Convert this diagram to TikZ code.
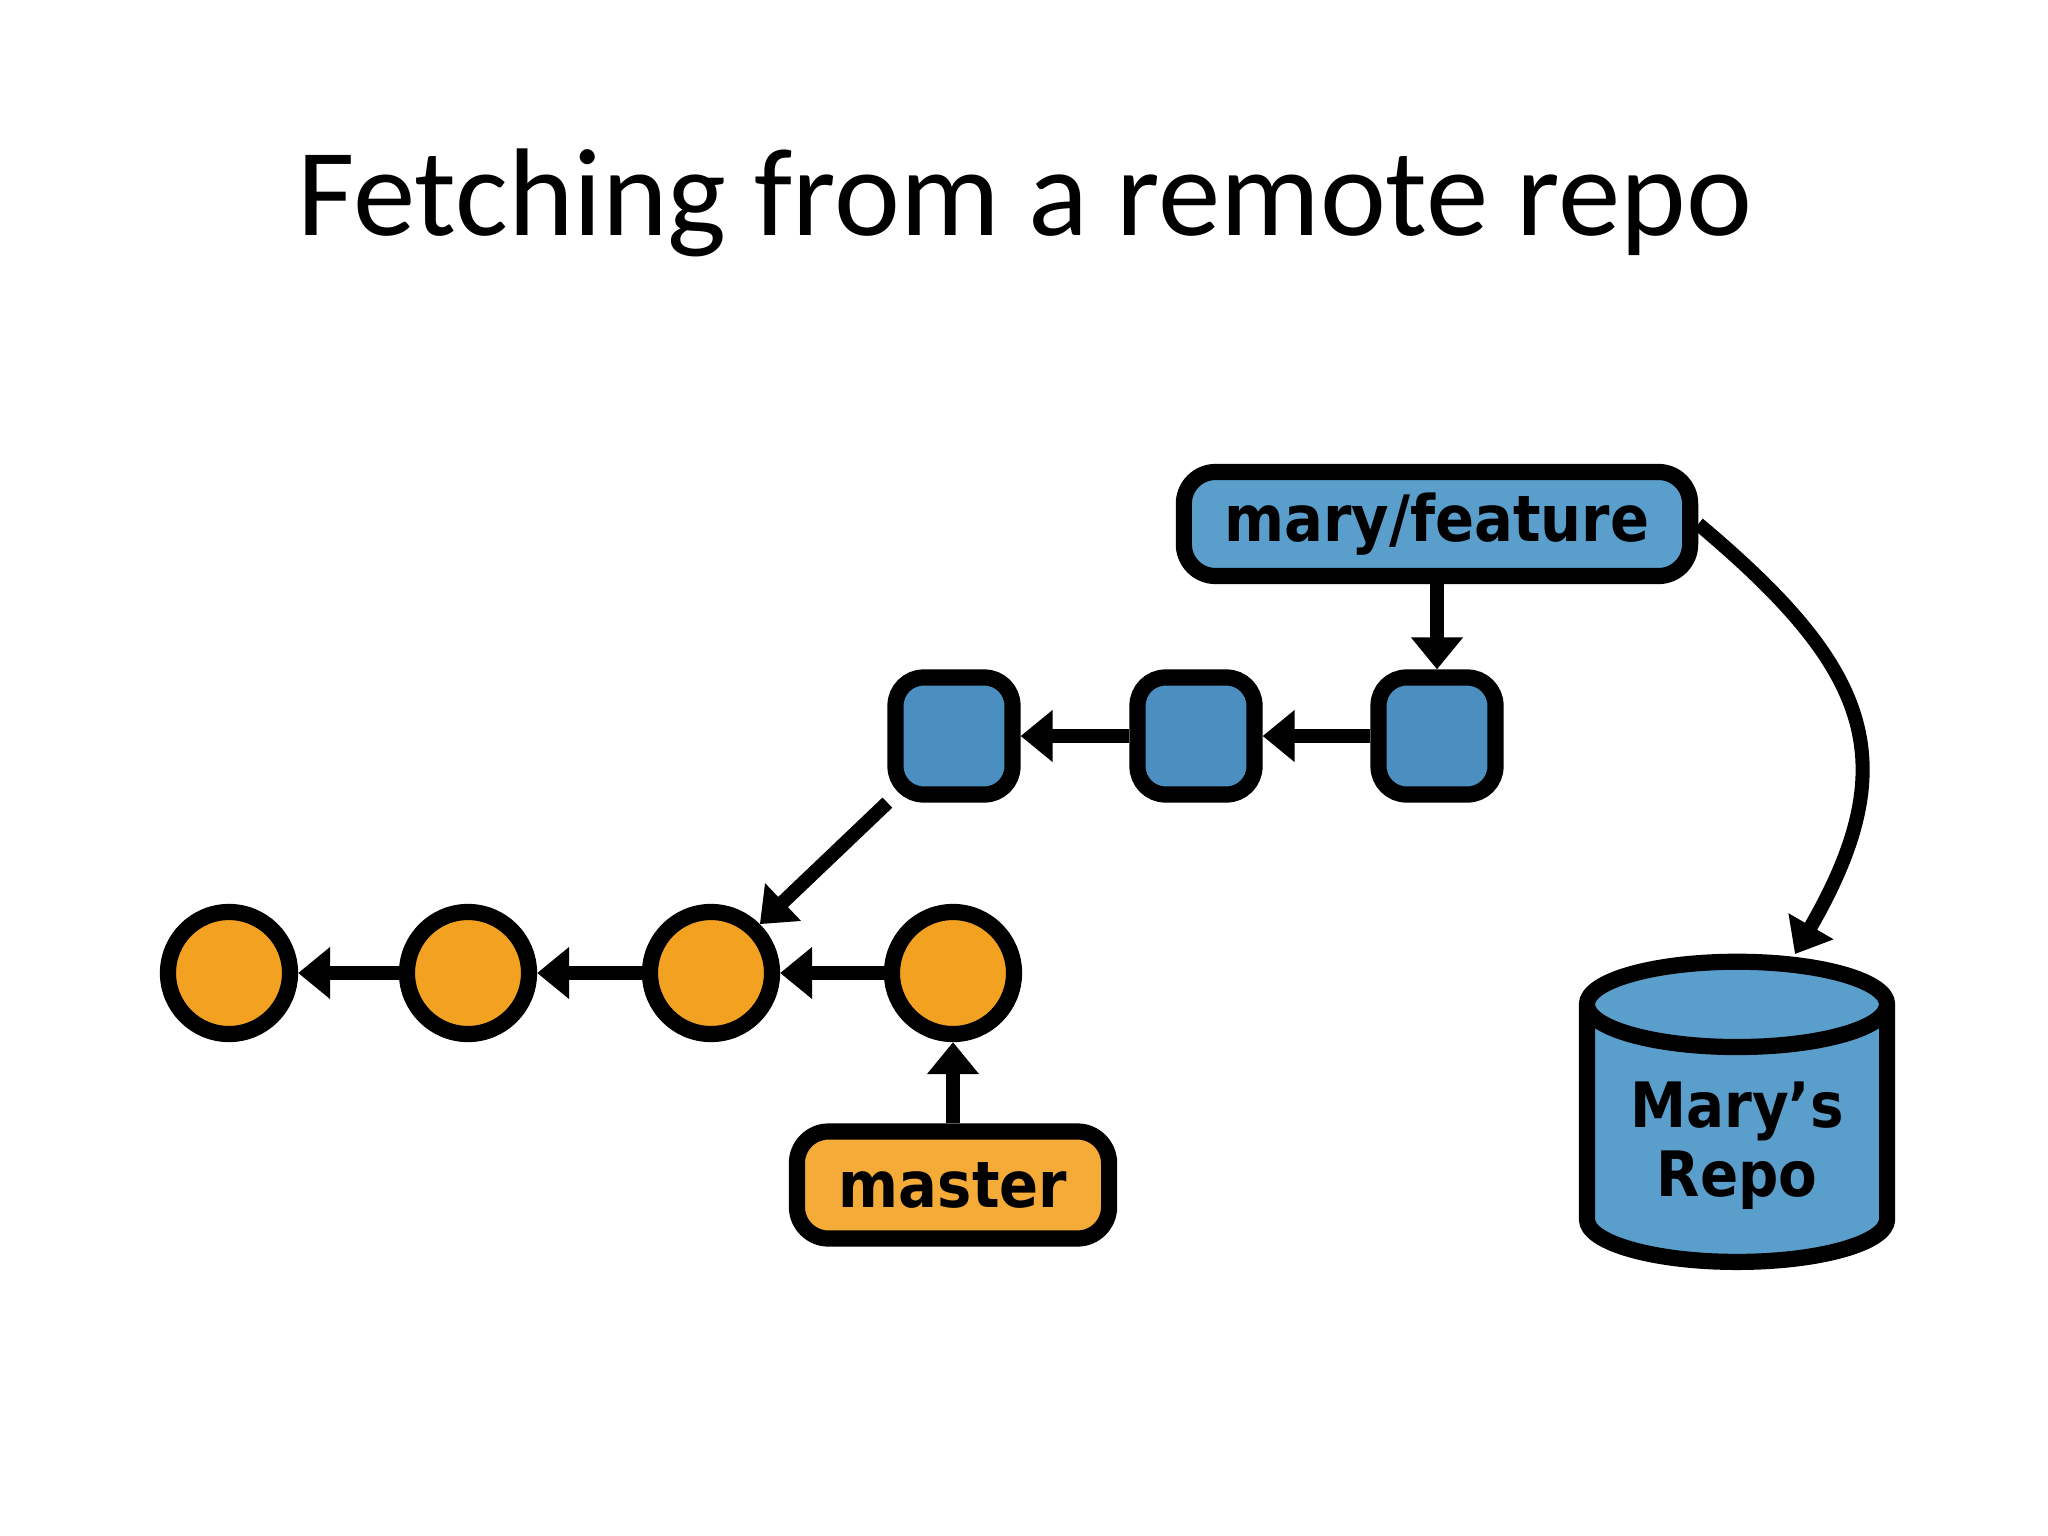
\documentclass[tikz,border=0pt]{standalone}
\usepackage{fontspec}
\usetikzlibrary{arrows.meta, positioning, calc, shapes.geometric}
\setmainfont{Carlito}
\newfontfamily\labelfont{DejaVu Sans Condensed}
\definecolor{inkblue}{HTML}{4A8FBF}
\definecolor{inkbluelight}{HTML}{5A9FCC}
\definecolor{inkorange}{HTML}{F2A121}
\definecolor{inkorangelight}{HTML}{F5AB37}
\newcommand{\featcommit}[2]{%
  \node[draw=black, line width=4.6pt, rounded corners=8pt, fill=inkblue,
        minimum size=1.17cm] (#1) at (#2,736) {};}
\newcommand{\mastercommit}[2]{%
  \node[circle, draw=black, line width=4.6pt, fill=inkorange,
        minimum size=1.22cm] (#1) at (#2,973) {};}
\tikzset{
  refbox/.style={draw=black, line width=4.6pt, rounded corners=9pt,
        font=\labelfont\bfseries\fontsize{18.2}{18.2}\selectfont},
  commitarrow/.style={-{Triangle[width=0.5cm, length=0.32cm]}, line width=4pt}
}

\begin{document}
\begin{tikzpicture}[x=0.01cm, y=-0.01cm]
      \useasboundingbox[fill=white] (0,0) rectangle (2048,1536);
      \node[anchor=base, font=\fontsize{35.5}{42}\selectfont] (title) at (1025,235)
        {Fetching from a remote repo};
      % commits
      \featcommit{f1}{954}
      \featcommit{f2}{1196}
      \featcommit{f3}{1437}
      \mastercommit{m1}{229}
      \mastercommit{m2}{468}
      \mastercommit{m3}{711}
      \mastercommit{m4}{953}
      % refs and repo
      \node[refbox, fill=inkbluelight, minimum width=5.06cm, minimum height=1.04cm]
        (mf) at (1437,524) {mary/feature};
      \node[refbox, fill=inkorangelight, minimum width=3.12cm, minimum height=1.07cm]
        (master) at (953,1185) {master};
      \node[cylinder, shape border rotate=90, aspect=0.36, draw=black, line width=4.6pt,
            fill=inkbluelight, minimum width=3.0cm, minimum height=3.0cm, align=center,
            anchor=south, font=\labelfont\bfseries\fontsize{17.8}{19.5}\selectfont]
        (repo) at (1737,1270) {Mary’s\\Repo};
      \coordinate (repotop) at (1795,954);
      \draw[commitarrow] (f2) -- (f1);
      \draw[commitarrow] (f3) -- (f2);
      \draw[commitarrow] (mf) -- (f3);
      \draw[commitarrow] (f1.south west) -- (m3.north east);
      \draw[commitarrow] (m2) -- (m1);
      \draw[commitarrow] (m3) -- (m2);
      \draw[commitarrow] (m4) -- (m3);
      \draw[commitarrow] (master) -- (m4);
      \draw[commitarrow] (mf.east) to[out=-40, in=60, looseness=1.3] (repotop);
    \end{tikzpicture}
\end{document}
